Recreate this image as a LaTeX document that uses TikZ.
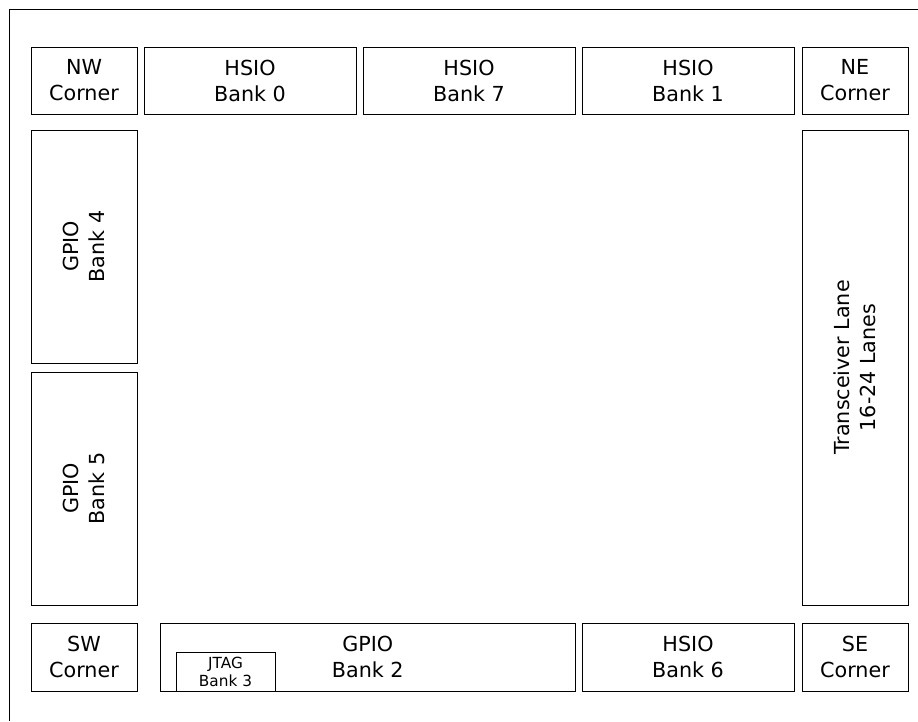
\documentclass[tikz,border=0pt]{standalone}
\usepackage{fontspec}
\setmainfont{DejaVu Sans}
\begin{document}
\begin{tikzpicture}[x=1pt,y=-1pt,
  box/.style={draw=black, line width=1pt, inner sep=0pt, align=center,
    font=\fontsize{20.7}{26}\selectfont},
  smallbox/.style={draw=black, line width=1pt, inner sep=0pt, align=center,
    font=\fontsize{15.3}{18}\selectfont, fill=white}]
\useasboundingbox (0,0) rectangle (918,721);
\coordinate (otr) at (918,9);
\coordinate (otl) at (9,9);
\coordinate (obl) at (9,721);
\draw[line width=1pt] (otr) -- (otl) -- (obl);
% top row
\node[box, minimum width=106, minimum height=67] (nw) at (84,80.5) {NW\\Corner};
\node[box, minimum width=212, minimum height=67] (h0) at (250,80.5) {HSIO\\Bank 0};
\node[box, minimum width=212, minimum height=67] (h7) at (469,80.5) {HSIO\\Bank 7};
\node[box, minimum width=212, minimum height=67] (h1) at (688,80.5) {HSIO\\Bank 1};
\node[box, minimum width=106, minimum height=67] (ne) at (855,80.5) {NE\\Corner};
% sides
\node[box, rotate=90, minimum width=233, minimum height=106] (g4) at (84,246.5) {GPIO\\Bank 4};
\node[box, rotate=90, minimum width=233, minimum height=106] (g5) at (84,488.5) {GPIO\\Bank 5};
\node[box, rotate=90, minimum width=475, minimum height=106] (tr) at (855,367.5) {Transceiver Lane\\16-24 Lanes};
% bottom row
\node[box, minimum width=106, minimum height=68] (sw) at (84,657) {SW\\Corner};
\node[box, minimum width=415.5, minimum height=68] (g2) at (367.75,657) {GPIO\\Bank 2};
\node[smallbox, minimum width=99, minimum height=39] (jt) at (225.5,671.5) {JTAG\\Bank 3};
\node[box, minimum width=212, minimum height=68] (h6) at (688,657) {HSIO\\Bank 6};
\node[box, minimum width=106, minimum height=68] (se) at (855,657) {SE\\Corner};
\end{tikzpicture}
\end{document}
